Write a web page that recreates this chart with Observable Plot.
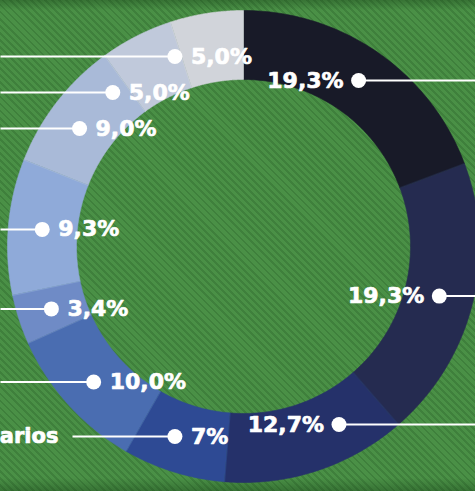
<!DOCTYPE html>
<html>
<head>
<meta charset="utf-8">
<script src="https://cdn.jsdelivr.net/npm/d3@7"></script>
<script src="https://cdn.jsdelivr.net/npm/@observablehq/plot@0.6"></script>
<style>
  html, body { margin: 0; padding: 0; }
  body {
    width: 475px; height: 491px; overflow: hidden;
    background-color: #4a9046;
    background-image:
      linear-gradient(to bottom, rgba(20,60,20,0.35) 0px, rgba(20,60,20,0) 10px, rgba(20,60,20,0) 478px, rgba(20,60,20,0.35) 491px),
      repeating-linear-gradient(45deg, rgba(30,80,30,0.0) 0px, rgba(30,80,30,0.0) 3px, rgba(30,80,30,0.25) 3px, rgba(30,80,30,0.25) 5px);
  }
  #chart svg { display: block; }
</style>
</head>
<body>
<div id="chart"></div>
<script>
// ---- data ----
const values = [19.3, 19.3, 12.7, 7, 10.0, 3.4, 9.3, 9.0, 5.0, 5.0];
const labels = ["19,3%", "19,3%", "12,7%", "7%", "10,0%", "3,4%", "9,3%", "9,0%", "5,0%", "5,0%"];
const categoryText = ["", "", "", "arios", "", "", "", "", "", ""];
const colors = ["#181a28", "#252b50", "#25316a", "#2e4a94", "#4a6db1", "#6f8bc6", "#8faad9", "#a9bad8", "#c0c9db", "#d1d4da"];

// ---- layout ----
const W = 475, H = 491;
const CX = 243, CY = 246;
const R_IN = 167, R_OUT = 236, R_DOT = 202;
const Y_MAX_RIGHT = 178, Y_MAX_LEFT = 190, GAP = 36;

const rows = values.map((v, i) => ({i, value: v, label: labels[i], cat: categoryText[i], color: colors[i]}));
const arcs = d3.pie().sort(null).value(d => d.value)(rows);

const polys = [];
arcs.forEach(a => {
  const n = 80;
  for (let k = 0; k <= n; k++) {
    const t = a.startAngle + (a.endAngle - a.startAngle) * k / n;
    polys.push({i: a.data.i, color: a.data.color, x: R_OUT * Math.sin(t), y: -R_OUT * Math.cos(t)});
  }
  for (let k = n; k >= 0; k--) {
    const t = a.startAngle + (a.endAngle - a.startAngle) * k / n;
    polys.push({i: a.data.i, color: a.data.color, x: R_IN * Math.sin(t), y: -R_IN * Math.cos(t)});
  }
});

// label anchors: start at slice mid-angle, then relax vertically per side
let pts = arcs.map(a => {
  const m = (a.startAngle + a.endAngle) / 2;
  const right = m < Math.PI;
  const ym = right ? Y_MAX_RIGHT : Y_MAX_LEFT;
  return {...a.data, right, ym, y: Math.max(-ym, Math.min(ym, -R_DOT * Math.cos(m)))};
});
for (const side of [true, false]) {
  const s = pts.filter(d => d.right === side).sort((a, b) => a.y - b.y);
  for (let k = 1; k < s.length; k++) if (s[k].y < s[k - 1].y + GAP) s[k].y = s[k - 1].y + GAP;
  for (let k = s.length - 1; k >= 0; k--) {
    const lim = k === s.length - 1 ? s[k].ym : s[k + 1].y - GAP;
    if (s[k].y > lim) s[k].y = lim;
  }
}
pts = pts.map(d => {
  const x = (d.right ? 1 : -1) * Math.sqrt(R_DOT * R_DOT - d.y * d.y);
  const edge = d.right ? (W - CX) : (d.cat ? (72 - CX) : -CX);
  return {...d, x, edge};
});

const font = "'DejaVu Sans', sans-serif";
const txt = {fill: "white", stroke: "white", strokeWidth: 0.7, fontSize: 22, fontWeight: "bold", fontFamily: font};

const chart = Plot.plot({
  width: W, height: H,
  margin: 0,
  style: {background: "transparent", overflow: "visible"},
  x: {domain: [-CX, W - CX], axis: null},
  y: {domain: [H - CY, -CY], axis: null},
  color: {type: "identity"},
  marks: [
    Plot.line(polys, {x: "x", y: "y", z: "i", fill: "color", stroke: "color", strokeWidth: 0.6, curve: "linear-closed"}),
    Plot.link(pts, {x1: "edge", y1: "y", x2: "x", y2: "y", stroke: "white", strokeWidth: 2}),
    Plot.dot(pts, {x: "x", y: "y", r: 7.5, fill: "white", stroke: null}),
    Plot.text(pts.filter(d => d.right), {x: "x", y: "y", text: "label", dx: -15, textAnchor: "end", ...txt}),
    Plot.text(pts.filter(d => !d.right), {x: "x", y: "y", text: "label", dx: 16, textAnchor: "start", ...txt}),
    Plot.text(pts.filter(d => d.cat), {x: "edge", y: "y", text: "cat", dx: -14, textAnchor: "end", ...txt, fontSize: 21})
  ]
});
document.getElementById("chart").appendChild(chart);
</script>
</body>
</html>
